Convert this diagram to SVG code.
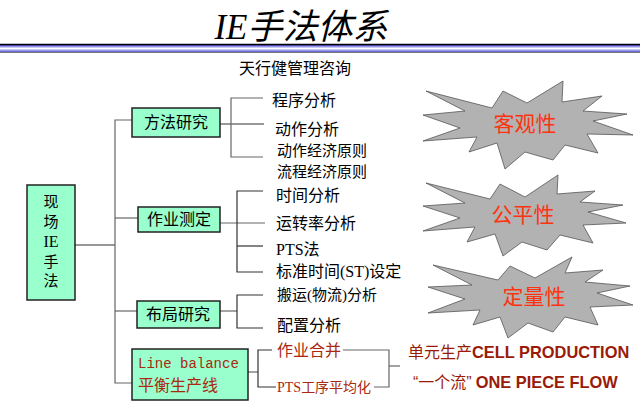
<svg xmlns="http://www.w3.org/2000/svg" width="640" height="420" viewBox="0 0 640 420">
<defs>
<linearGradient id="band" x1="0" y1="0" x2="0" y2="1">
<stop offset="0" stop-color="#2a2acc"/>
<stop offset="0.3" stop-color="#aaaaee"/>
<stop offset="0.5" stop-color="#ffffff"/>
<stop offset="0.7" stop-color="#aaaaee"/>
<stop offset="1" stop-color="#4040cc"/>
</linearGradient>
</defs>
<style>
.cn{font-family:"Noto Sans CJK SC","Liberation Sans",sans-serif;font-size:16px;fill:#000}
.box{fill:#99ffcc;stroke:#222;stroke-width:1.5}
.ln{fill:none;stroke:#333;stroke-width:1.2}
.lg{fill:none;stroke:#666;stroke-width:1.2}
.burst{fill:#b2b2b2;stroke:#555;stroke-width:0.8}
.bt{font-family:"Noto Sans CJK SC",sans-serif;font-size:21px;fill:#ff3311;text-anchor:middle}
.dr{fill:#a82810}
.rt{font-family:"Liberation Sans","Noto Sans CJK SC",sans-serif;font-size:16px;fill:#9a1a08}
</style>
<rect width="640" height="420" fill="#fff"/>

<g id="title">
<text x="301" y="39" text-anchor="middle" font-family="Liberation Serif,'Noto Sans CJK SC',serif" font-style="italic" font-size="35">IE手法体系</text>
<rect x="0" y="44.5" width="640" height="8" fill="url(#band)"/>
<line x1="0" y1="44.5" x2="640" y2="44.5" stroke="#000" stroke-width="1.5"/>
<line x1="0" y1="52.5" x2="640" y2="52.5" stroke="#777" stroke-width="1"/>
<text x="295" y="74" text-anchor="middle" class="cn">天行健管理咨询</text>
</g>

<g id="connectors">
<line class="ln" x1="75" y1="245" x2="115" y2="245"/>
<polyline class="lg" points="133,120 115,120 115,383 132,383"/>
<line class="lg" x1="115" y1="218" x2="138" y2="218"/>
<line class="lg" x1="115" y1="311" x2="137" y2="311"/>
<line class="ln" x1="220" y1="124" x2="264" y2="124"/>
<polyline class="lg" points="263,98 231,98 231,157 263,157"/>
<line class="lg" x1="220" y1="223" x2="265" y2="223"/>
<polyline class="ln" points="263,191 237,191 237,272 263,272"/>
<line class="ln" x1="237" y1="246" x2="263" y2="246"/>
<line class="lg" x1="220" y1="311" x2="237" y2="311"/>
<polyline class="ln" points="263,295 237,295 237,328 263,328"/>
<line class="lg" x1="248" y1="372" x2="258" y2="372"/>
<polyline class="ln" points="272,350 258,350 258,387 276,387"/>
<polyline class="lg" points="343,350 389,350 389,387 374,387"/>
<line class="lg" x1="389" y1="366" x2="400" y2="366"/>
</g>

<g id="root">
<rect class="box" x="27" y="185" width="48" height="115"/>
<g font-family="'Noto Sans CJK SC',serif" font-size="15" text-anchor="middle">
<text x="51" y="207">现</text>
<text x="51" y="227">场</text>
<text x="51" y="247" font-family="Liberation Serif,serif" font-size="16">IE</text>
<text x="51" y="267">手</text>
<text x="51" y="286">法</text>
</g>
</g>

<g id="n-method">
<rect class="box" x="132" y="108" width="88" height="29"/>
<text class="cn" x="176" y="128" text-anchor="middle">方法研究</text>
</g>
<g id="n-measure">
<rect class="box" x="138" y="207" width="82" height="25"/>
<text class="cn" x="179" y="225" text-anchor="middle">作业测定</text>
</g>
<g id="n-layout">
<rect class="box" x="137" y="301" width="83" height="27"/>
<text class="cn" x="178" y="320" text-anchor="middle">布局研究</text>
</g>
<g id="n-linebalance">
<rect class="box" x="132" y="349" width="116" height="51"/>
<text x="138" y="368" font-family="Liberation Mono,monospace" font-size="14" class="dr">Line balance</text>
<text x="138" y="391" font-family="'Noto Sans CJK SC',serif" font-size="16" class="dr">平衡生产线</text>
</g>

<g id="leaf-method">
<text class="cn" x="272" y="106">程序分析</text>
<text class="cn" x="275" y="135">动作分析</text>
<text class="cn" x="277" y="156" style="font-size:15px">动作经济原则</text>
<text class="cn" x="277" y="177" style="font-size:15px">流程经济原则</text>
</g>
<g id="leaf-measure">
<text class="cn" x="276" y="201">时间分析</text>
<text class="cn" x="276" y="229">运转率分析</text>
<text class="cn" x="276" y="255"><tspan font-family="Liberation Serif,serif">PTS</tspan>法</text>
<text class="cn" x="276" y="277">标准时间<tspan font-family="Liberation Serif,serif">(ST)</tspan>设定</text>
</g>
<g id="leaf-layout">
<text class="cn" x="277" y="300" style="font-size:15px">搬运<tspan font-family="Liberation Serif,serif">(</tspan>物流<tspan font-family="Liberation Serif,serif">)</tspan>分析</text>
<text class="cn" x="277" y="331">配置分析</text>
</g>
<g id="leaf-lb">
<text class="cn dr" x="277" y="356">作业合并</text>
<text class="cn dr" x="277" y="392" style="font-size:14px"><tspan font-family="Liberation Serif,serif">PTS</tspan>工序平均化</text>
</g>
<g id="results">
<text class="rt" x="408" y="358">单元生产<tspan font-weight="bold" font-size="16.4">CELL PRODUCTION</tspan></text>
<text class="rt" x="413" y="388">“一个流”<tspan font-weight="bold" font-size="16.4" dx="4">ONE PIECE FLOW</tspan></text>
</g>

<g id="burst-objective">
<polygon class="burst" points="426,91 465,111 423,115 460,128 423,141 477,137 469,152 497,143 505,169 525,152 553,160 565,145 598,153 587,134 633,135 593,121 627,114 583,111 602,96 562,102 563,81 527,103 503,91 492,108"/>
<text class="bt" x="525" y="131">客观性</text>
</g>
<g id="burst-fair">
<polygon class="burst" points="426,183 465,203 423,206 460,218 423,231 475,227 467,242 495,234 503,256 522,242 547,250 560,235 593,243 583,225 626,223 588,212 623,205 580,202 595,191 557,194 558,175 525,197 500,184 490,199"/>
<text class="bt" x="523" y="222">公平性</text>
</g>
<g id="burst-quant">
<polygon class="burst" points="433,265 472,285 428,287 465,299 428,313 480,310 473,325 500,317 508,338 528,323 553,332 565,317 598,325 590,307 633,305 597,293 630,286 585,282 603,270 565,273 572,257 535,278 510,266 498,280"/>
<text class="bt" x="534" y="304">定量性</text>
</g>
</svg>
